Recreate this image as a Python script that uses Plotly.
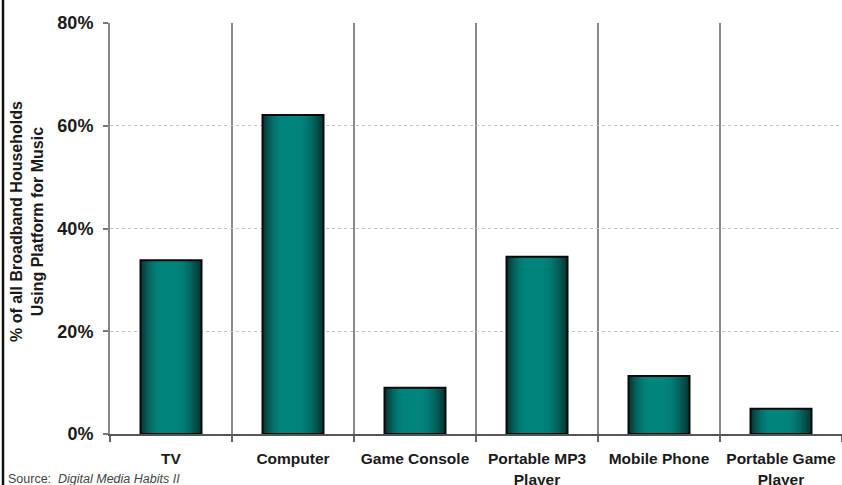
import math
import plotly.graph_objects as go

categories = ["TV", "Computer", "Game Console", "Portable MP3<br>Player", "Mobile Phone", "Portable Game<br>Player"]
values = [33.8, 62.1, 9.0, 34.5, 11.3, 4.9]
y_ticks = [0, 20, 40, 60, 80]
y_tick_labels = ["0%", "20%", "40%", "60%", "80%"]

W, H = 842, 485
L, R, T, B = 110, 0, 23, 51
pw, ph = W - L - R, H - T - B

def lerp(c1, c2, t):
    return "rgb(%d,%d,%d)" % tuple(round(a + (b - a) * t) for a, b in zip(c1, c2))

dark = (7, 50, 48)
bright = (2, 132, 124)

def shade(p):
    # brightness profile across the bar width (cylinder-like)
    lo, hi = 0.33, 0.58
    if p < lo:
        t = math.sin((p / lo) * math.pi / 2)
    elif p <= hi:
        t = 1.0
    else:
        t = math.cos(((p - hi) / (1 - hi)) * math.pi / 2)
    t = max(0.0, min(1.0, t))
    return lerp(dark, bright, t)

fig = go.Figure()
bw = 0.5
n = 26
sw = bw / n
for i in range(n):
    p = (i + 0.5) / n
    fig.add_trace(go.Bar(
        x=categories, y=values, width=bw - i * sw, offset=-bw / 2 + i * sw,
        marker=dict(color=shade(p), line=dict(width=0)),
        showlegend=False, hoverinfo="skip",
    ))
fig.add_trace(go.Bar(
    x=categories, y=values, width=bw, offset=-bw / 2,
    marker=dict(color="rgba(0,0,0,0)", line=dict(color="#0a0a0a", width=2)),
    showlegend=False,
))

fig.update_layout(
    width=W, height=H, autosize=False,
    margin=dict(l=L, r=R, t=T, b=B, autoexpand=False),
    paper_bgcolor="white", plot_bgcolor="white",
    barmode="overlay",
    font=dict(family="Liberation Sans, Arial, sans-serif", color="#1a1a1a"),
    xaxis=dict(
        type="category", tickson="boundaries", automargin=False,
        showgrid=True, gridcolor="#8a8a8a", gridwidth=1.5,
        ticks="outside", ticklen=6, tickcolor="#666", tickwidth=1.5,
        showline=True, linecolor="#555", linewidth=1.5,
        ticklabelstandoff=10,
        tickfont=dict(size=15.5, family="Liberation Sans, Arial, sans-serif", weight="bold", color="#1a1a1a"),
        range=[-0.5, 5.5],
    ),
    yaxis=dict(
        range=[0, 80], tickvals=y_ticks, ticktext=y_tick_labels, automargin=False,
        showgrid=True, gridcolor="#c4c4c4", gridwidth=1, griddash="dot",
        ticks="outside", ticklen=5, tickcolor="#777", tickwidth=1.5,
        showline=True, linecolor="#888", linewidth=2,
        zeroline=False, ticklabelstandoff=6,
        tickfont=dict(size=18, family="Liberation Sans, Arial, sans-serif", weight="bold", color="#1a1a1a"),
    ),
)

fig.add_annotation(
    xref="paper", yref="paper", x=(27 - L) / pw, y=(H - B - 222) / ph,
    text="% of all Broadband Households<br>Using Platform for Music",
    textangle=-90, showarrow=False, xanchor="center", yanchor="middle",
    font=dict(size=16, family="Liberation Sans, Arial, sans-serif", weight="bold", color="#1a1a1a"),
)
fig.add_annotation(
    xref="paper", yref="paper", x=(6 - L) / pw, y=(H - B - 479) / ph,
    text="Source:  <i>Digital Media Habits II</i>",
    showarrow=False, xanchor="left", yanchor="middle",
    font=dict(size=12.5, family="Liberation Sans, Arial, sans-serif", color="#444"),
)
fig.add_shape(
    type="line", xref="paper", yref="paper",
    x0=(3 - L) / pw, x1=(3 - L) / pw, y0=-0.2, y1=1.2,
    line=dict(color="#111", width=2.5),
)

fig.write_html("out.html")
